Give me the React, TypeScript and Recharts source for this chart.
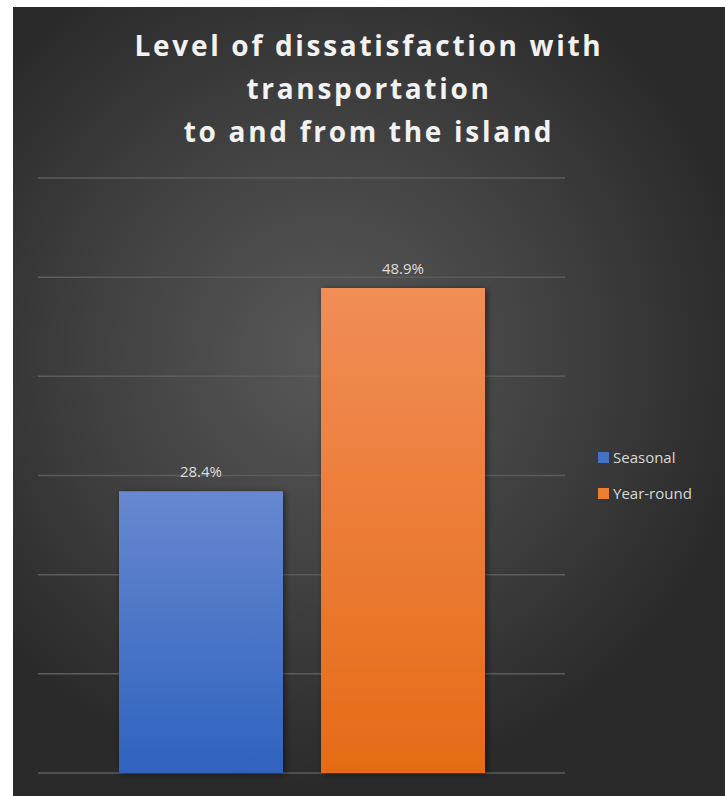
import { Bar, BarChart, CartesianGrid, LabelList, XAxis, YAxis } from "recharts";

const categories = ["Transportation"];
const seriesNames = ["Seasonal", "Year-round"];
const seasonalValues = [28.4];
const yearRoundValues = [48.9];
const yTicks = [0, 10, 20, 30, 40, 50, 60];

const COLORS = ["#4472c4", "#ed7d31"];

const chartData = categories.map((name, i) => ({
	name,
	Seasonal: seasonalValues[i],
	"Year-round": yearRoundValues[i],
}));

function LegendBox() {
	return (
		<div
			style={{
				position: "absolute",
				left: 585,
				top: 432,
				fontFamily: "'Open Sans', sans-serif",
				fontSize: 15,
				color: "#d9d9d9",
			}}
		>
			{seriesNames.map((s, idx) => (
				<div key={s} style={{ display: "flex", alignItems: "center", height: 36 }}>
					<span
						style={{
							display: "inline-block",
							width: 11,
							height: 11,
							background: COLORS[idx],
							marginRight: 4,
						}}
					/>
					{s}
				</div>
			))}
		</div>
	);
}

export default function App() {
	return (
		<div
			style={{
				position: "absolute",
				left: 13,
				top: 7,
				width: 712,
				height: 789,
				background: "radial-gradient(ellipse 60% 55% at 44% 44%, #585858 0%, #404040 55%, #2a2a2a 100%)",
				overflow: "hidden",
			}}
		>
			<div
				style={{
					position: "absolute",
					left: 0,
					top: 17,
					width: 712,
					textAlign: "center",
					color: "#f2f2f2",
					fontFamily: "'Open Sans', sans-serif",
					fontWeight: 700,
					fontSize: 28,
					letterSpacing: 2.7,
					lineHeight: "43px",
				}}
			>
				Level of dissatisfaction with
				<br />
				transportation
				<br />
				to and from the island
			</div>
			<BarChart
				width={712}
				height={789}
				data={chartData}
				margin={{ top: 171, right: 160, bottom: 23, left: 25 }}
				barSize={164}
				barGap={38}
			>
				<defs>
					<linearGradient id="gBlue" x1="0" y1="0" x2="0" y2="1">
						<stop offset="0%" stopColor="#6788d0" />
						<stop offset="100%" stopColor="#2f62be" />
					</linearGradient>
					<linearGradient id="gOrange" x1="0" y1="0" x2="0" y2="1">
						<stop offset="0%" stopColor="#f18d57" />
						<stop offset="100%" stopColor="#e66b16" />
					</linearGradient>
					<filter id="shadow" x="-20%" y="-20%" width="140%" height="140%">
						<feDropShadow dx="2" dy="1" stdDeviation="3" floodColor="#000" floodOpacity="0.5" />
					</filter>
				</defs>
				<CartesianGrid vertical={false} stroke="#5c5c5c" strokeWidth={1.5} />
				<XAxis dataKey="name" hide />
				<YAxis hide domain={[0, 60]} ticks={yTicks} />
				<Bar dataKey="Seasonal" fill="url(#gBlue)" filter="url(#shadow)" isAnimationActive={false}>
					<LabelList
						dataKey="Seasonal"
						position="top"
						offset={14}
						formatter={(v: number) => `${v}%`}
						fill="#dedede"
						fontSize={15}
						fontFamily="'Open Sans', sans-serif"
					/>
				</Bar>
				<Bar dataKey="Year-round" fill="url(#gOrange)" filter="url(#shadow)" isAnimationActive={false}>
					<LabelList
						dataKey="Year-round"
						position="top"
						offset={14}
						formatter={(v: number) => `${v}%`}
						fill="#dedede"
						fontSize={15}
						fontFamily="'Open Sans', sans-serif"
					/>
				</Bar>
			</BarChart>
			<LegendBox />
		</div>
	);
}
